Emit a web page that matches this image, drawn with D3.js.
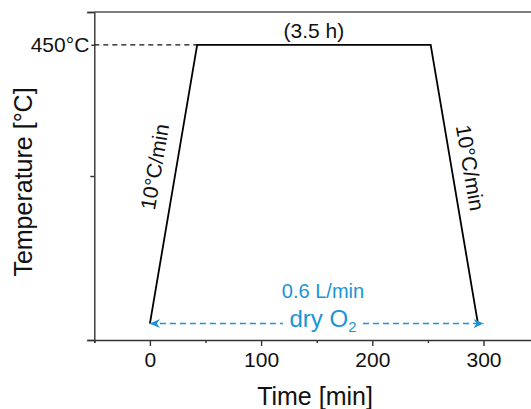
<!DOCTYPE html>
<html>
<head>
<meta charset="utf-8">
<script src="https://cdn.jsdelivr.net/npm/d3@7/dist/d3.min.js"></script>
<style>
  html, body { margin: 0; padding: 0; background: #fff; }
  svg { display: block; font-family: Arial, "Liberation Sans", sans-serif; }
</style>
</head>
<body>
<svg id="chart" width="531" height="409"></svg>
<script>
// Annealing profile: heat at 10 °C/min, hold 3.5 h at 450 °C, cool at 10 °C/min
const profileTime = [0, 42.5, 252.5, 295];      // min
const profileTemp = [25, 450, 450, 25];         // °C
const holdTemp = 450;
const rateLabel = "10°C/min";
const holdLabel = "(3.5 h)";
const gasSpan = [0, 300];                       // min, gas flow arrow extent
const gasTemp = 25;
const flowLabel = "0.6 L/min";

const xMajorTicks = [0, 100, 200, 300];
const xMinorTicks = [-50, 50, 150, 250];
const yMajorTicks = [0, 500];
const yMinorTicks = [250];

const svg = d3.select("#chart");
const plotLeft = 94.3, plotTop = 12, plotBottom = 340;
const pxPerMin = 1.112;

const x = d3.scaleLinear().domain([-50, 350]).range([plotLeft, plotLeft + 400 * pxPerMin]);
const y = d3.scaleLinear().domain([0, 500]).range([plotBottom, plotTop]);

const axisColor = "#333";
const blue = "#1b95d6";
const font = "Arial, 'Liberation Sans', sans-serif";

// ---- axes ----
const gx = svg.append("g").attr("transform", `translate(0,${plotBottom})`);
gx.call(d3.axisBottom(x).tickValues(xMinorTicks).tickSize(3).tickFormat(""));
gx.call(g => g.append("g").call(d3.axisBottom(x).tickValues(xMajorTicks).tickSize(6).tickPadding(6)));
gx.selectAll("g g path.domain").remove();
gx.selectAll("path.domain").attr("stroke", axisColor).attr("stroke-width", 1.4);
gx.selectAll(".tick line").attr("stroke", axisColor).attr("stroke-width", 1.4);
gx.selectAll(".tick text").attr("font-size", 21).attr("fill", "#111").attr("font-family", font);

const gy = svg.append("g").attr("transform", `translate(${plotLeft},0)`);
gy.call(d3.axisLeft(y).tickValues(yMajorTicks).tickSize(7).tickFormat(""));
gy.call(g => g.append("g").call(d3.axisLeft(y).tickValues(yMinorTicks).tickSize(4).tickFormat("")));
gy.call(g => g.append("g").call(d3.axisLeft(y).tickValues([holdTemp]).tickSize(3).tickPadding(2)
  .tickFormat(d => d + "°C")));
gy.selectAll("g g path.domain").remove();
gy.selectAll("path.domain").attr("stroke", axisColor).attr("stroke-width", 1.4);
gy.selectAll(".tick line").attr("stroke", axisColor).attr("stroke-width", 1.4);
gy.selectAll(".tick text").attr("font-size", 21).attr("fill", "#111").attr("font-family", font);

// top frame line
svg.append("line")
  .attr("x1", plotLeft).attr("x2", 531).attr("y1", y(500)).attr("y2", y(500))
  .attr("stroke", "#555").attr("stroke-width", 1.5);

// axis titles
svg.append("text")
  .attr("x", 315).attr("y", 405)
  .attr("text-anchor", "middle").attr("font-size", 25).attr("fill", "#111")
  .text("Time [min]");
svg.append("text")
  .attr("transform", `translate(32,182) rotate(-90)`)
  .attr("text-anchor", "middle").attr("font-size", 25).attr("fill", "#111")
  .text("Temperature [°C]");

// ---- hold temperature guide ----
svg.append("line")
  .attr("x1", x(-50)).attr("x2", x(profileTime[1]))
  .attr("y1", y(holdTemp)).attr("y2", y(holdTemp))
  .attr("stroke", "#111").attr("stroke-width", 1.2).attr("stroke-dasharray", "5,4");

// ---- temperature profile ----
const line = d3.line().x((d, i) => x(profileTime[i])).y((d, i) => y(profileTemp[i]));
svg.append("path")
  .datum(profileTime)
  .attr("d", line)
  .attr("fill", "none").attr("stroke", "#000").attr("stroke-width", 1.8)
  .attr("stroke-linejoin", "miter");

// hold duration label
svg.append("text")
  .attr("x", (x(profileTime[1]) + x(profileTime[2])) / 2).attr("y", 38)
  .attr("text-anchor", "middle").attr("font-size", 21).attr("fill", "#111")
  .text(holdLabel);

// ramp labels, rotated along the ramps
function rampAngle(i0, i1) {
  const dx = x(profileTime[i1]) - x(profileTime[i0]);
  const dy = y(profileTemp[i1]) - y(profileTemp[i0]);
  return Math.atan2(dy, dx) * 180 / Math.PI;
}
const upAngle = rampAngle(0, 1);      // about -80°
const downAngle = rampAngle(2, 3);    // about +80°
svg.append("text")
  .attr("transform", `translate(162,168) rotate(${upAngle})`)
  .attr("text-anchor", "middle").attr("font-size", 21).attr("fill", "#111")
  .text(rateLabel);
svg.append("text")
  .attr("transform", `translate(463,169) rotate(${downAngle})`)
  .attr("text-anchor", "middle").attr("font-size", 21).attr("fill", "#111")
  .text(rateLabel);

// ---- gas flow arrow ----
const defs = svg.append("defs");
function arrowHead(id, dir) {
  const m = defs.append("marker")
    .attr("id", id).attr("viewBox", "-10 -5 10 10")
    .attr("refX", 0).attr("refY", 0)
    .attr("markerWidth", 10).attr("markerHeight", 10)
    .attr("markerUnits", "userSpaceOnUse")
    .attr("orient", dir);
  m.append("path").attr("d", "M0,0 L-10,-4.5 L-7,0 L-10,4.5 Z").attr("fill", blue);
}
arrowHead("headR", 0);
arrowHead("headL", 180);

const gapL = 283, gapR = 363;
const ay = y(gasTemp);
svg.append("line")
  .attr("x1", x(gasSpan[0])).attr("x2", gapL).attr("y1", ay).attr("y2", ay)
  .attr("stroke", blue).attr("stroke-width", 1.5).attr("stroke-dasharray", "6,4")
  .attr("marker-start", "url(#headL)");
svg.append("line")
  .attr("x1", gapR).attr("x2", x(gasSpan[1])).attr("y1", ay).attr("y2", ay)
  .attr("stroke", blue).attr("stroke-width", 1.5).attr("stroke-dasharray", "6,4")
  .attr("marker-end", "url(#headR)");

const cx = (gapL + gapR) / 2;
const gas = svg.append("text")
  .attr("x", cx).attr("y", 327)
  .attr("text-anchor", "middle").attr("font-size", 24).attr("fill", blue);
gas.append("tspan").text("dry O");
gas.append("tspan").attr("font-size", 15).attr("dy", 5).text("2");

svg.append("text")
  .attr("x", cx).attr("y", 298)
  .attr("text-anchor", "middle").attr("font-size", 20).attr("fill", blue)
  .text(flowLabel);
</script>
</body>
</html>
